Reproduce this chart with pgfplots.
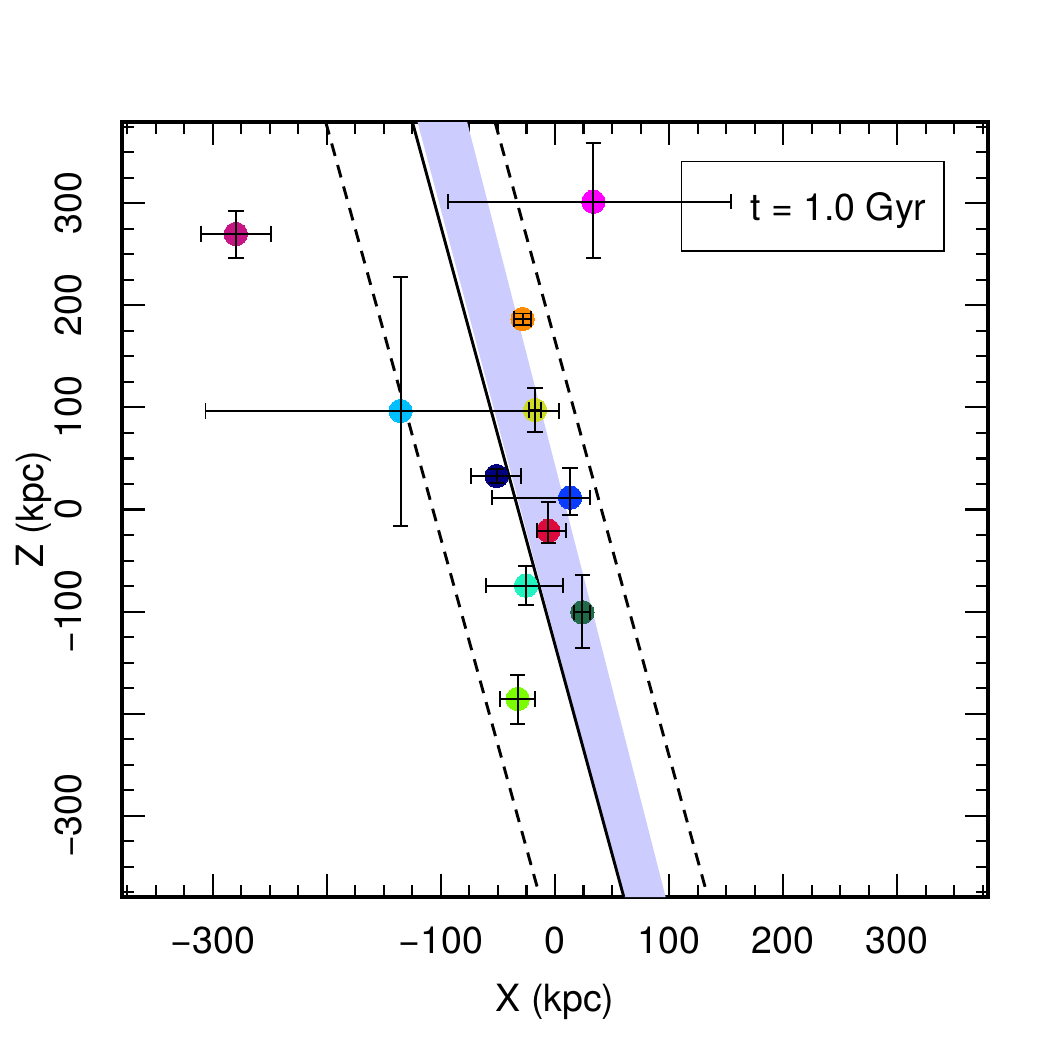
\documentclass[border=0pt]{standalone}
\usepackage{fontspec}
\setmainfont{TeX Gyre Heros}
\usepackage{pgfplots}
\pgfplotsset{compat=1.18}

\definecolor{bandblue}{HTML}{CCCCFF}
\definecolor{cMvred}{HTML}{C71585}
\definecolor{cMagenta}{HTML}{FF00FF}
\definecolor{cOrange}{HTML}{FF8C00}
\definecolor{cYellow}{HTML}{CDDC29}
\definecolor{cCyan}{HTML}{00BFFF}
\definecolor{cNavy}{HTML}{000080}
\definecolor{cBlue}{HTML}{0A3CFF}
\definecolor{cRed}{HTML}{DC0A3C}
\definecolor{cAqua}{HTML}{20F2C0}
\definecolor{cDkgreen}{HTML}{1F6B4A}
\definecolor{cLawn}{HTML}{7CFC00}

\newcommand{\labelfont}{\fontsize{18bp}{21.6bp}\selectfont}

\pgfplotsset{sat/.style={only marks, color=#1, mark=*, mark size=5.6bp,
  mark options={solid, draw=#1, fill=#1, line width=0pt}}}

\begin{document}
\begin{tikzpicture}
\useasboundingbox (-58.56bp,-73.44bp) rectangle (445.44bp,430.56bp);
\begin{axis}[
  scale only axis,
  width=415.68bp, height=372bp,
  xmin=-379.6, xmax=379.6, ymin=-379.6, ymax=379.6,
  clip mode=individual,
  xtick={-300,-200,...,300}, ytick={-300,-200,...,300},
  xticklabels={−300,{},−100,0,100,200,300},
  yticklabels={−300,{},−100,0,100,200,300},
  minor xtick={-375,-350,...,375},
  minor ytick={-375,-350,...,375},
  tick pos=both, tick align=inside,
  major tick length=11bp, minor tick length=5.8bp,
  every tick/.style={black, line width=1bp},
  axis line style={line width=2bp, black},
  tick label style={font=\labelfont, inner sep=0pt},
  xticklabel style={anchor=north},
  xticklabel shift=14bp,
  yticklabel style={rotate=90, anchor=south},
  yticklabel shift=19bp,
  xlabel={X (kpc)}, ylabel={Z (kpc)},
  every axis x label/.style={at={(axis description cs:0.5,0)}, anchor=north, inner sep=0pt, yshift=-41.5bp, font=\labelfont},
  every axis y label/.style={at={(axis description cs:0,0.5)}, rotate=90, anchor=south, inner sep=0pt, yshift=33.5bp, font=\labelfont},
]

% orbit spread band
\addplot[fill=bandblue, draw=none] coordinates {
  (-120.5,379.6) (-77,379.6) (97,-379.6) (60.3,-379.6)
} -- cycle;

% best-fit plane and its bounds
\addplot[black, line width=1.4bp] coordinates {(-125,379.6) (60.3,-379.6)};
\addplot[black, line width=1.4bp, dash pattern=on 6.2bp off 4.5bp] coordinates {(-201,379.6) (-13.2,-379.6)};
\addplot[black, line width=1.4bp, dash pattern=on 6.2bp off 4.5bp] coordinates {(-52.6,379.6) (134,-379.6)};

% satellites
\addplot[sat=cMvred]    coordinates {(-279.8,269.9)};
\addplot[sat=cMagenta]  coordinates {(33.6,301.5)};
\addplot[sat=cOrange]   coordinates {(-28.4,186.6)};
\addplot[sat=cYellow]   coordinates {(-17.5,97.5)};
\addplot[sat=cCyan]     coordinates {(-135.4,96.5)};
\addplot[sat=cNavy]     coordinates {(-51.2,32.8)};
\addplot[sat=cBlue]     coordinates {(13.2,11.6)};
\addplot[sat=cRed]      coordinates {(-5.9,-20.8)};
\addplot[sat=cAqua]     coordinates {(-25.4,-74.6)};
\addplot[sat=cDkgreen]  coordinates {(24,-100.7)};
\addplot[sat=cLawn]     coordinates {(-32.7,-185.6)};

% uncertainties
\addplot[draw=none, mark=none, forget plot,
  error bars/.cd, x dir=both, x explicit, y dir=both, y explicit,
  error bar style={draw=black, solid, line width=0.95bp},
  error mark options={rotate=90, draw=black, solid, line width=0.95bp, mark size=3.7bp}]
coordinates {
  (-279.8,269.9) += (31.1,22.8) -= (30.2,23.2)
  (33.6,301.5)   += (120.8,57.5) -= (127.7,55.1)
  (-28.4,186.6)  += (7.7,5.4) -= (7.7,5.4)
  (-17.5,97.5)   += (5,21.5) -= (5,21.5)
  (-135.4,96.5)  += (139.2,131.6) -= (171,112.4)
  (-51.2,32.8)   += (21.4,6.4) -= (22.5,6.4)
  (13.2,11.6)    += (17.5,29.3) -= (68.7,17)
  (-5.9,-20.8)   += (15.5,27.9) -= (10.1,12.3)
  (-25.4,-74.6)  += (32.1,19.5) -= (35.1,19)
  (24,-100.7)    += (7,36.5) -= (7,34.7)
  (-32.7,-185.6) += (15.4,23.5) -= (15.4,24.5)
};

% time label
\draw[black, line width=0.6bp] (axis cs:111.1,253.2) rectangle (axis cs:341.1,340.7);
\node[anchor=base east, inner sep=0pt, font=\labelfont] at (axis cs:325.9,283.6) {t = 1.0 Gyr};
\end{axis}
\end{tikzpicture}
\end{document}
